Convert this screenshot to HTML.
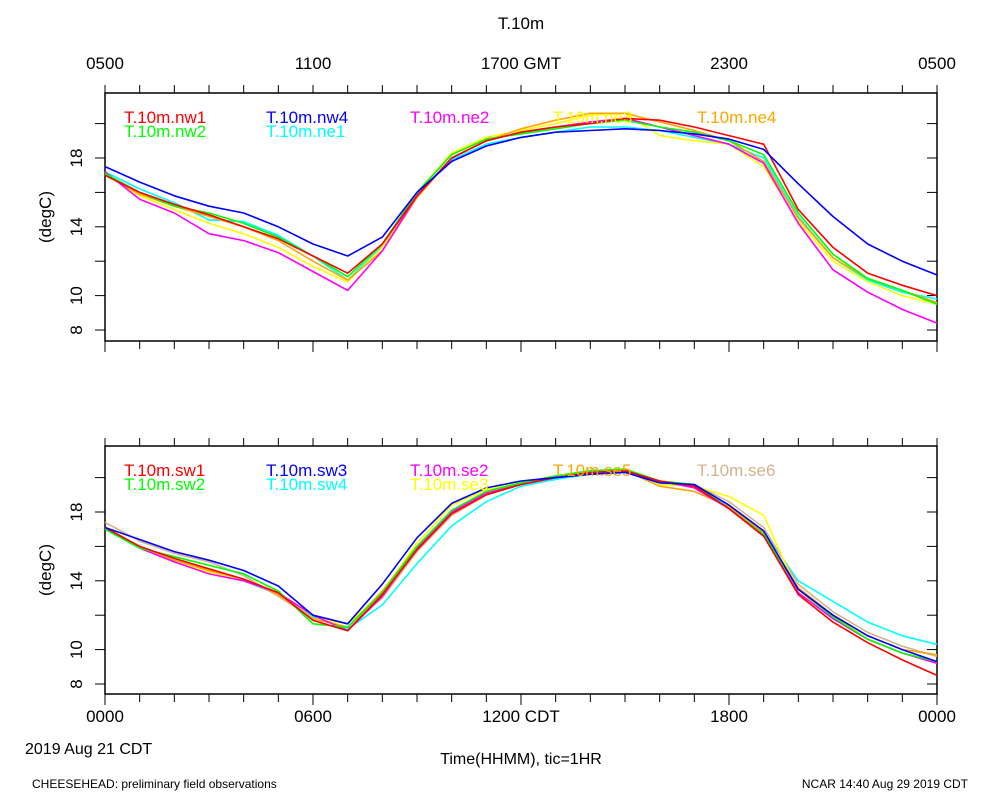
<!DOCTYPE html>
<html><head><meta charset="utf-8"><style>
body{margin:0;background:#fff;}
svg text{font-family:"Liberation Sans",sans-serif;}
</style></head><body>
<svg id="c" width="1000" height="800" xmlns="http://www.w3.org/2000/svg">
<text x="521" y="29" font-size="17" text-anchor="middle">T.10m</text>
<text x="32" y="788" font-size="12">CHEESEHEAD: preliminary field observations</text>
<text x="968" y="788" font-size="12" text-anchor="end">NCAR 14:40 Aug 29 2019 CDT</text>
<text x="25" y="754" font-size="16">2019 Aug 21 CDT</text>
<text x="521" y="764" font-size="16" text-anchor="middle">Time(HHMM), tic=1HR</text>
</svg>
<script>
const hours=[0,1,2,3,4,5,6,7,8,9,10,11,12,13,14,15,16,17,18,19,20,21,22,23,24];
const yTicks=[8,10,12,14,16,18,20];
const yLabels=[8,10,14,18];
const topXLabels=["0500","1100","1700 GMT","2300","0500"];
const botXLabels=["0000","0600","1200 CDT","1800","0000"];
const topNames=["T.10m.nw1","T.10m.nw4","T.10m.ne2","T.10m.ne3","T.10m.ne4","T.10m.nw2","T.10m.ne1"];
const botNames=["T.10m.sw1","T.10m.sw3","T.10m.se2","T.10m.se5","T.10m.se6","T.10m.sw2","T.10m.sw4","T.10m.se3"];
const nw1=[17.0,16.0,15.3,14.7,14.0,13.3,12.3,11.3,13.0,15.8,18.0,19.0,19.5,19.8,20.0,20.3,20.2,19.8,19.3,18.8,15.0,12.8,11.3,10.6,10.0];
const nw4=[17.5,16.6,15.8,15.2,14.8,14.0,13.0,12.3,13.4,16.0,17.8,18.7,19.2,19.5,19.6,19.7,19.6,19.4,19.1,18.5,16.5,14.6,13.0,12.0,11.2];
const ne2=[17.2,15.6,14.8,13.6,13.2,12.5,11.4,10.3,12.6,15.8,18.0,19.0,19.5,19.8,20.1,20.3,19.8,19.3,18.8,17.7,14.2,11.5,10.2,9.2,8.4];
const ne3=[17.1,15.8,15.0,14.2,13.6,12.8,11.7,10.8,12.8,16.0,18.3,19.2,19.6,20.0,20.5,20.6,19.3,19.0,18.8,17.5,14.3,12.0,10.8,10.0,9.5];
const ne4=[17.0,15.9,15.2,14.6,14.0,13.2,12.0,10.9,12.6,15.7,18.0,19.0,19.7,20.2,20.6,20.6,20.1,19.6,19.0,17.8,14.5,12.2,11.0,10.3,9.6];
const nw2=[17.1,16.0,15.2,14.8,14.2,13.4,12.3,11.1,13.0,16.0,18.2,19.1,19.4,19.7,20.0,20.2,19.8,19.5,19.0,18.2,14.8,12.4,11.0,10.3,9.5];
const ne1=[17.2,16.2,15.4,14.4,14.3,13.5,12.3,10.9,12.9,15.9,17.9,18.8,19.2,19.5,19.8,19.8,19.6,19.2,18.8,18.0,14.6,12.2,10.9,10.2,9.8];
const sw1=[17.1,16.0,15.3,14.7,14.1,13.3,11.7,11.1,13.2,15.8,17.9,19.0,19.6,20.0,20.3,20.4,19.8,19.5,18.2,16.6,13.2,11.6,10.4,9.4,8.5];
const sw3=[17.1,16.4,15.7,15.2,14.6,13.7,12.0,11.5,13.8,16.5,18.5,19.4,19.8,20.0,20.2,20.3,19.7,19.6,18.4,16.9,13.5,12.0,10.8,10.0,9.3];
const se2=[17.1,15.9,15.1,14.4,14.0,13.3,12.0,11.1,13.1,15.9,18.0,19.1,19.6,20.0,20.2,20.4,19.8,19.4,18.2,16.6,13.3,11.8,10.6,9.8,9.2];
const se5=[17.1,16.0,15.2,14.6,14.1,13.2,11.8,11.3,13.4,16.0,18.0,19.2,19.7,20.0,20.2,20.4,19.5,19.2,18.3,16.8,13.6,12.0,10.8,10.0,9.7];
const se6=[17.4,16.3,15.6,15.1,14.3,13.1,11.8,11.3,13.0,15.7,17.8,19.0,19.6,20.0,20.2,20.4,19.8,19.6,18.6,17.1,13.8,12.2,11.0,10.2,9.6];
const sw2=[17.0,15.9,15.4,14.9,14.4,13.4,11.5,11.3,13.3,16.0,18.1,19.2,19.7,20.1,20.4,20.5,19.8,19.6,18.2,16.7,13.5,11.9,10.6,9.8,9.3];
const sw4=[17.0,15.9,15.3,14.6,14.0,13.2,11.9,11.2,12.6,15.0,17.2,18.6,19.5,19.9,20.2,20.3,19.7,19.5,18.3,16.9,14.0,12.8,11.6,10.8,10.3];
const se3=[17.1,16.0,15.2,14.5,14.1,13.3,11.8,11.5,13.3,16.2,18.4,19.3,19.7,20.1,20.3,20.5,19.6,19.5,18.9,17.8,13.3,12.0,10.6,9.8,9.2];

const NS="http://www.w3.org/2000/svg";
const svg=document.getElementById('c');
const X0=105,X1=937;
function xs(h){return X0+h*(X1-X0)/24;}
function mk(tag,attrs,parent){const e=document.createElementNS(NS,tag);for(const k in attrs)e.setAttribute(k,attrs[k]);(parent||svg).appendChild(e);return e;}

function panel(top,bot,y8,series,colors,names,legendX,legendRows,xLabels,labelsAbove,prefix,drawOrder){
  const ys=v=>y8-(v-8)*17.2;
  const g=mk('g',{});
  
  
  const fr=mk('rect',{x:X0,y:top,width:X1-X0,height:bot-top,fill:'none',stroke:'#000','stroke-width':1.5},g);
  
  
  // x ticks
  for(let h=0;h<=24;h++){
    const x=xs(h);
    const t1=mk('line',{x1:x,x2:x,y1:top,y2:top-8,stroke:'#000'},g);
    
    
    const t2=mk('line',{x1:x,x2:x,y1:bot,y2:bot+(h%6==0?11:8),stroke:'#000'},g);
    
    
  }
  xLabels.forEach((l,i)=>{
    const t=mk('text',{x:xs(i*6),y:labelsAbove?top-24:bot+28,'font-size':17,'text-anchor':'middle'},g);
    t.textContent=l;
    
    
  });
  yTicks.forEach(v=>{
    const y=ys(v);
    const a=mk('line',{x1:X0-10,x2:X0,y1:y,y2:y,stroke:'#000'},g);
    
    
    const b=mk('line',{x1:X1-10,x2:X1,y1:y,y2:y,stroke:'#000'},g);
    
    
  });
  yLabels.forEach(v=>{
    const y=ys(v);
    const t=mk('text',{x:0,y:0,'font-size':17,'text-anchor':'middle',transform:`translate(82,${y}) rotate(-90)`},g);
    t.textContent=v;
    
    
  });
  const yt=mk('text',{x:0,y:0,'font-size':17,'text-anchor':'middle',transform:`translate(51,${(top+bot)/2}) rotate(-90)`},g);
  yt.textContent='(degC)';
  
  
  drawOrder.forEach(i=>{
    const d=series[i].map((v,j)=>(j?'L':'M')+xs(hours[j]).toFixed(1)+','+ys(v).toFixed(1)).join(' ');
    const p=mk('path',{d:d,fill:'none',stroke:colors[i],'stroke-width':1.6,'stroke-linejoin':'round'},g);
    
    
  });
  names.forEach((n,i)=>{
    const t=mk('text',{x:legendX[i],y:legendRows[i],'font-size':17,fill:colors[i]},g);
    t.textContent=n;
    
    
  });
}
panel(93,341,330,[nw1,nw4,ne2,ne3,ne4,nw2,ne1],
  ['#ff0000','#0000ff','#ff00ff','#ffff00','#ffa500','#00ff00','#00ffff'],
  topNames,[124,266,410,553,697,124,266],[123,123,123,123,123,137,137],
  topXLabels,true,'top',[6,3,4,2,5,0,1]);
panel(446,694,684,[sw1,sw3,se2,se5,se6,sw2,sw4,se3],
  ['#ff0000','#0000ff','#ff00ff','#ffa500','#d2b48c','#00ff00','#00ffff','#ffff00'],
  botNames,[124,266,410,553,697,124,266,410],[476,476,476,476,476,490,490,490],
  botXLabels,false,'bottom',[6,4,7,3,2,5,0,1]);
</script>
</body></html>
